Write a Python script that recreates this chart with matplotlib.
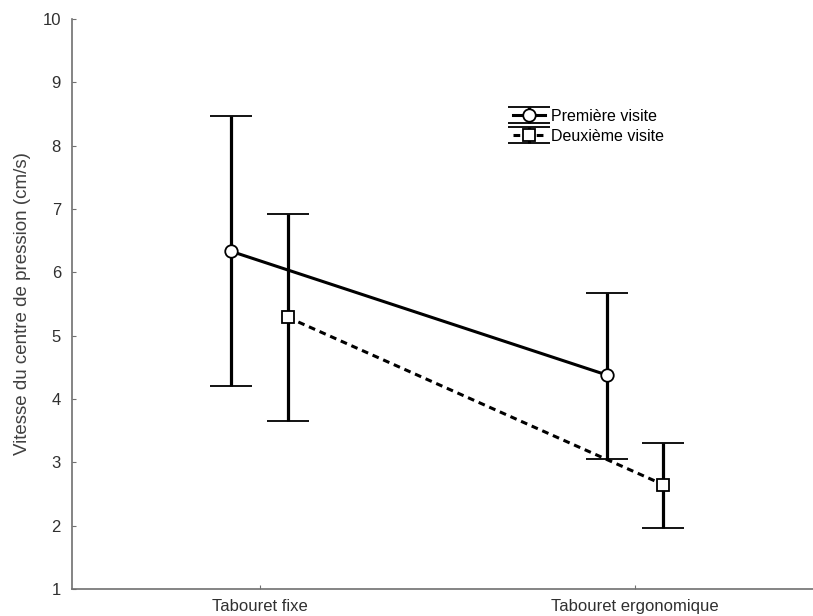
import matplotlib
matplotlib.use("Agg")
import matplotlib.pyplot as plt
import numpy as np

plt.rcParams['font.family'] = ['Liberation Sans', 'DejaVu Sans']

categories = ["Tabouret fixe", "Tabouret ergonomique"]
series = ["Première visite", "Deuxième visite"]
visit1_mean = [6.33, 4.38]
visit1_low = [4.20, 3.06]
visit1_high = [8.47, 5.67]
visit2_mean = [5.29, 2.65]
visit2_low = [3.65, 1.96]
visit2_high = [6.92, 3.30]
yticks = [1, 2, 3, 4, 5, 6, 7, 8, 9, 10]

fig = plt.figure(figsize=(8.13, 6.16), dpi=100)
ax = fig.add_axes([72/813, 27/616, 1 - 72/813, (589-19)/616])

x = np.arange(len(categories))
off = 0.075

def draw(xpos, mean, low, high, marker, ls, label):
    mean = np.array(mean); low = np.array(low); high = np.array(high)
    yerr = [mean - low, high - mean]
    ax.errorbar(xpos, mean, yerr=yerr, fmt=marker, linestyle=ls, color='black',
                lw=2.2, mfc='white', mec='black', ms=9, mew=1.3,
                elinewidth=2.3, capsize=15, capthick=2.3, label=label, zorder=3,
                dashes=(2.2, 1.6) if ls == '--' else (None, None))

draw(x - off, visit1_mean, visit1_low, visit1_high, 'o', '-', series[0])
draw(x + off, visit2_mean, visit2_low, visit2_high, 's', '--', series[1])

ax.set_xlim(-0.5, 1.475)
ax.set_ylim(1, 10)
ax.set_xticks(x)
ax.set_xticklabels(categories)
ax.set_yticks(yticks)
for s in ['top', 'right']:
    ax.spines[s].set_visible(False)
for s in ['left', 'bottom']:
    ax.spines[s].set_color('#707070')
    ax.spines[s].set_linewidth(1.2)
ax.tick_params(direction='in', length=3, color='#707070', labelsize=12,
               labelcolor='#303030')
ax.tick_params(axis='y', pad=8)
ax.tick_params(axis='x', pad=7)
ax.set_ylabel("Vitesse du centre de pression (cm/s)", fontsize=13.5, color='#404040', labelpad=8)

leg = ax.legend(loc='upper left', bbox_to_anchor=(513/813, 1 - 109/616),
                bbox_transform=fig.transFigure, frameon=False, fontsize=11.5,
                handlelength=2.0, handleheight=0.9, handletextpad=0.35,
                labelspacing=0.3, borderaxespad=0, borderpad=0)

fig.savefig("out.png", dpi=100)
